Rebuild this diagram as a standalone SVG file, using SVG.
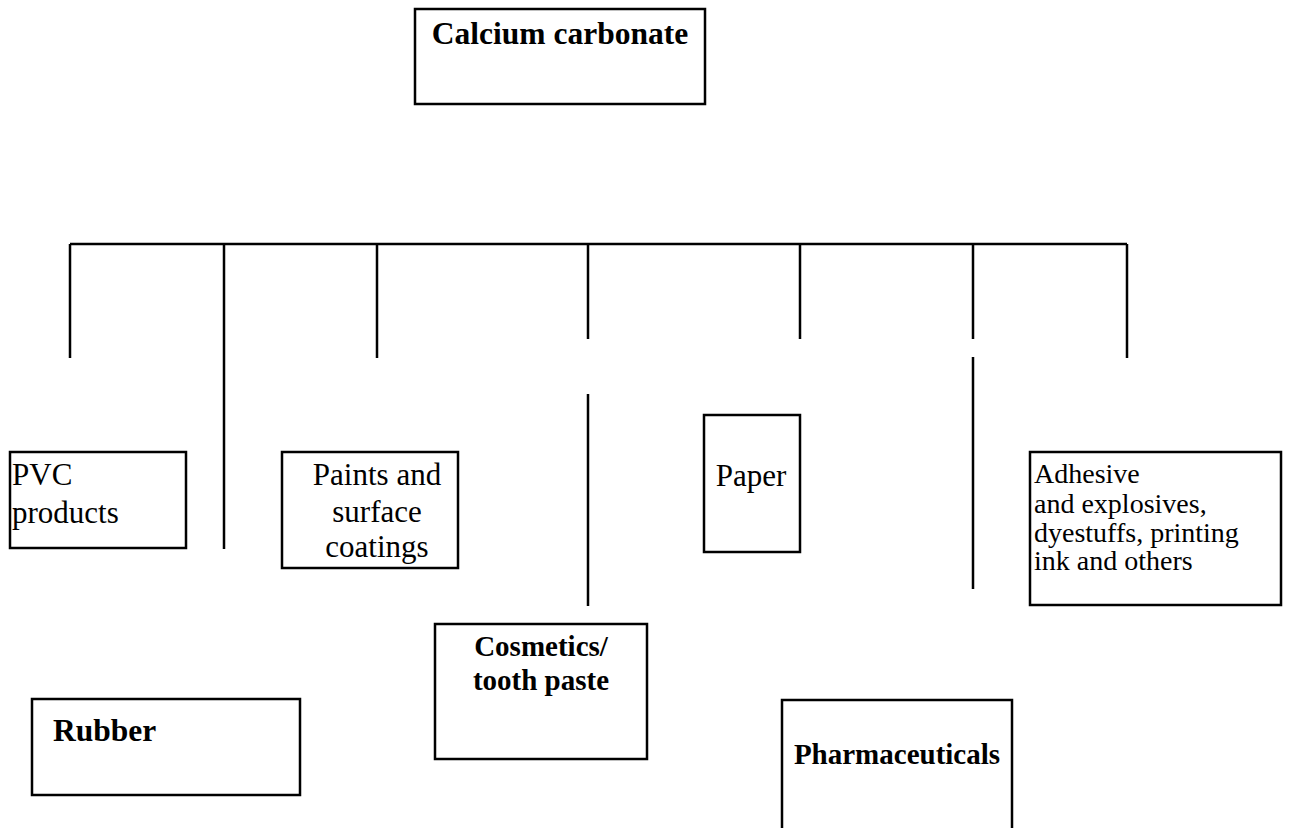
<svg xmlns="http://www.w3.org/2000/svg" width="1290" height="828" viewBox="0 0 1290 828">
<style>
.box{fill:#fff;stroke:#000;stroke-width:2.5}
.ln{stroke:#000;stroke-width:2.5;fill:none}
text{font-family:"Liberation Serif","Times New Roman",serif;fill:#000}
.r{font-size:31px}
.s{font-size:28px}
.b{font-weight:bold;font-size:31.5px}
.bs{font-weight:bold;font-size:29px}
.c{text-anchor:middle}
</style>
<rect width="1290" height="828" fill="#fff"/>
<g id="connectors">
<path class="ln" d="M70 244H1127"/>
<path class="ln" d="M70 244V358M224 244V549M377 244V358M588 244V339M800 244V339M973 244V339M1127 244V358"/>
<path class="ln" d="M588 394V606M973 357V589"/>
</g>
<g id="calcium">
<rect class="box" x="415" y="9" width="290" height="95"/>
<text class="b c" x="560" y="44">Calcium carbonate</text>
</g>
<g id="pvc">
<rect class="box" x="10" y="452" width="176" height="96"/>
<text class="r" x="12" y="485">PVC</text>
<text class="r" x="12" y="523">products</text>
</g>
<g id="paints">
<rect class="box" x="282" y="452" width="176" height="116"/>
<text class="r c" x="377" y="485">Paints and</text>
<text class="r c" x="377" y="522">surface</text>
<text class="r c" x="377" y="557">coatings</text>
</g>
<g id="paper">
<rect class="box" x="704" y="415" width="96" height="137"/>
<text class="r c" x="751" y="486">Paper</text>
</g>
<g id="adhesive">
<rect class="box" x="1030" y="452" width="251" height="153"/>
<text class="s" x="1034" y="483">Adhesive</text>
<text class="s" x="1034" y="513">and explosives,</text>
<text class="s" x="1034" y="542">dyestuffs, printing</text>
<text class="s" x="1034" y="570">ink and others</text>
</g>
<g id="cosmetics">
<rect class="box" x="435" y="624" width="212" height="135"/>
<text class="bs c" x="541" y="656">Cosmetics/</text>
<text class="bs c" x="541" y="690">tooth paste</text>
</g>
<g id="rubber">
<rect class="box" x="32" y="699" width="268" height="96"/>
<text class="b" x="53" y="741">Rubber</text>
</g>
<g id="pharma">
<rect class="box" x="782" y="700" width="230" height="140"/>
<text class="bs c" x="897" y="764">Pharmaceuticals</text>
</g>
</svg>
